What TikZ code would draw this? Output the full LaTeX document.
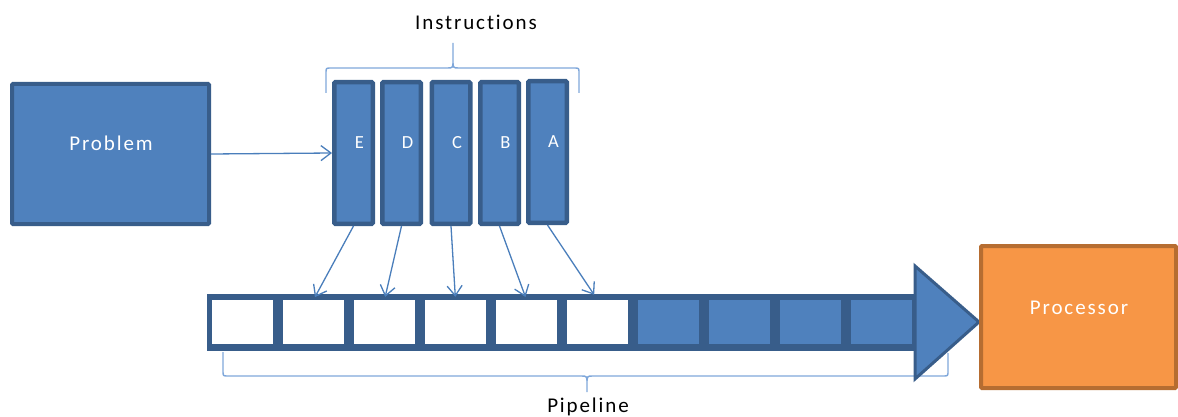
\documentclass[tikz,border=0pt]{standalone}
\usepackage{fontspec}
\setmainfont{Carlito}
\newfontfamily\wideface[LetterSpace=9,RawFeature={-liga}]{Carlito}
\usetikzlibrary{arrows.meta}
\definecolor{bfill}{HTML}{4F81BD}
\definecolor{bline}{HTML}{385D8A}
\definecolor{ofill}{HTML}{F79646}
\definecolor{oline}{HTML}{B66D31}
\definecolor{conn}{HTML}{4A7EBB}
\definecolor{brc}{HTML}{7FA7DA}
\tikzset{
  bigbox/.style={draw=bline, fill=bfill, line width=4pt, rounded corners=1pt, inner sep=0pt},
  instbar/.style={draw=bline, fill=bfill, line width=4.5pt, rounded corners=1pt, minimum width=38.5pt, minimum height=141.5pt, inner sep=0pt},
  procbox/.style={draw=oline, fill=ofill, line width=4pt, rounded corners=1pt, inner sep=0pt},
  intext/.style={text=white, font=\wideface\fontsize{21}{25}\selectfont, inner sep=0pt},
  lettext/.style={text=white, font=\fontsize{18.5}{22}\selectfont, inner sep=0pt},
  captext/.style={text=black, font=\wideface\fontsize{21}{25}\selectfont, inner sep=0pt},
  cellw/.style={fill=white, minimum width=61pt, minimum height=44pt, inner sep=0pt},
  cellb/.style={fill=bfill, minimum width=61pt, minimum height=44pt, inner sep=0pt},
  connline/.style={draw=conn, line width=1.3pt, -{Straight Barb[length=10pt,width=15pt]}},
  bracepath/.style={draw=brc, line width=1.4pt}
}
\begin{document}
\begin{tikzpicture}[x=1pt,y=-1pt]
\useasboundingbox (0,0) rectangle (1178,417);
% braces (behind)
\draw[bracepath] (326,93) -- (326,73) .. controls (326,68) .. (331,68) -- (447,68) .. controls (453,68) .. (453,60) -- (453,43)
  (453,60) .. controls (453,68) .. (459,68) -- (574,68) .. controls (579,68) .. (579,73) -- (579,93);
\draw[bracepath] (223,352) -- (223,371) .. controls (223,376) .. (228,376) -- (581,376) .. controls (587,376) .. (587,384) -- (587,392)
  (587,384) .. controls (587,376) .. (593,376) -- (943,376) .. controls (948,376) .. (948,371) -- (948,353);
% problem
\node[bigbox, minimum width=197pt, minimum height=140pt] (prob) at (110.5,154) {};
\node[intext] (probt) at (111,143) {Problem};
% instruction bars
\node[instbar] (E) at (353.5,153) {};
\node[instbar] (D) at (401.5,153) {};
\node[instbar] (C) at (451,153) {};
\node[instbar] (B) at (499.5,153) {};
\node[instbar] (A) at (547.5,152) {};
\foreach \n in {E,D,C,B,A}{
  \node[lettext] (l\n) at ([shift={(6,-10)}]\n.center) {\n};
}
\node[captext] (instr) at (476,22) {Instructions};
% pipeline
\node[fill=bline, minimum width=708pt, minimum height=57pt, inner sep=0pt] (pipe) at (561,322.5) {};
\foreach \i in {0,...,5}{
  \node[cellw] (c\i) at (242.5+71*\i,322) {};
}
\foreach \i in {6,...,9}{
  \node[cellb] (c\i) at (242.5+71*\i,322) {};
}
\coordinate (ht) at (915,266);
\coordinate (hb) at (915,379);
\coordinate (hp) at (979,322);
\draw[draw=bline, fill=bfill, line width=3pt, line join=miter] (ht) -- (hp) -- (hb) -- cycle;
\node[captext] (pipet) at (588,407) {Pipeline};
% processor
\node[procbox, minimum width=195pt, minimum height=142pt] (proc) at (1078.5,317) {};
\node[intext] (proct) at (1079,308) {Processor};
% connectors
\draw[connline] (prob.east) -- (E.west);
\draw[connline, shorten >=3pt] (E.south) -- (c1.north);
\draw[connline, shorten >=3pt] (D.south) -- (c2.north);
\draw[connline, shorten >=3pt] (C.south) -- (c3.north);
\draw[connline, shorten >=3pt] (B.south) -- (c4.north);
\draw[connline, shorten >=6pt] (A.south) -- (c5.north);
\end{tikzpicture}
\end{document}
